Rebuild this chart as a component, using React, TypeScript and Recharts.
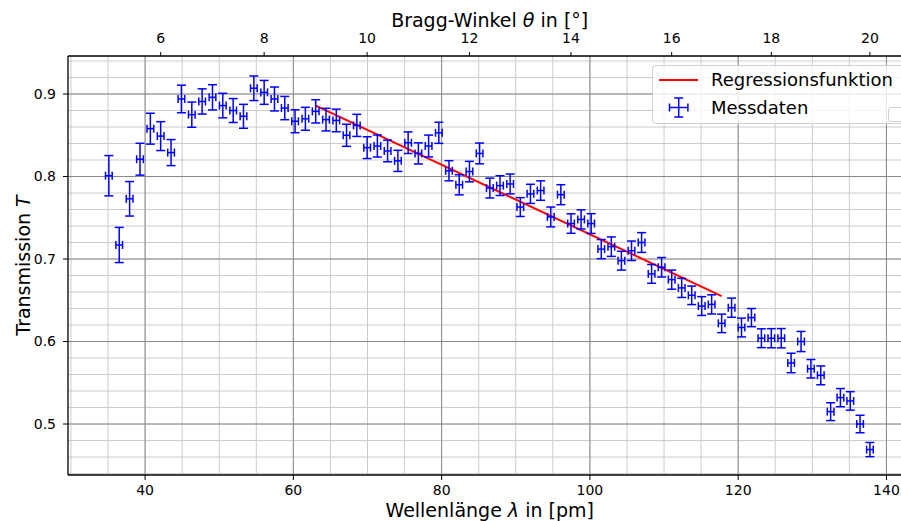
import React from 'react';
import { ComposedChart, Scatter, Line, XAxis, YAxis, ReferenceLine, ErrorBar, Legend } from 'recharts';

// Wellenlänge λ in pm (Messpunkte)
const lambdaPm = [
  35.11, 36.51, 37.91, 39.31, 40.71, 42.10, 43.50, 44.90, 46.30, 47.69,
  49.09, 50.48, 51.88, 53.27, 54.67, 56.06, 57.45, 58.84, 60.23, 61.62,
  63.01, 64.40, 65.79, 67.17, 68.56, 69.95, 71.33, 72.71, 74.10, 75.48,
  76.86, 78.24, 79.62, 80.99, 82.37, 83.75, 85.12, 86.50, 87.87, 89.24,
  90.61, 91.98, 93.35, 94.72, 96.08, 97.45, 98.81, 100.17, 101.53, 102.89,
  104.25, 105.61, 106.97, 108.32, 109.67, 111.03, 112.38, 113.73, 115.08, 116.42,
  117.77, 119.11, 120.45, 121.79, 123.13, 124.47, 125.81, 127.14, 128.48, 129.81,
  131.14, 132.47, 133.79, 135.12, 136.44, 137.77,
];

// Transmission T
const transmission = [
  0.801, 0.717, 0.773, 0.821, 0.858, 0.849, 0.829, 0.894, 0.875, 0.891,
  0.896, 0.886, 0.880, 0.873, 0.907, 0.902, 0.894, 0.883, 0.867, 0.870,
  0.879, 0.869, 0.868, 0.850, 0.862, 0.835, 0.837, 0.831, 0.819, 0.841,
  0.828, 0.837, 0.853, 0.807, 0.790, 0.806, 0.828, 0.786, 0.789, 0.791,
  0.763, 0.779, 0.783, 0.751, 0.778, 0.743, 0.748, 0.743, 0.712, 0.715,
  0.698, 0.710, 0.720, 0.682, 0.690, 0.675, 0.665, 0.656, 0.643, 0.645,
  0.622, 0.641, 0.617, 0.629, 0.604, 0.604, 0.604, 0.574, 0.600, 0.567,
  0.559, 0.515, 0.532, 0.528, 0.500, 0.469,
];

// Fehler der Transmission
const transmissionErr = [
  0.0244, 0.0213, 0.0209, 0.0193, 0.0187, 0.0175, 0.0158, 0.0167, 0.0153, 0.0153,
  0.0153, 0.0149, 0.0145, 0.0145, 0.0149, 0.0145, 0.0145, 0.0141, 0.0139, 0.0139,
  0.0141, 0.0137, 0.0137, 0.0134, 0.0134, 0.0132, 0.0134, 0.0131, 0.0128, 0.0131,
  0.0128, 0.0132, 0.0128, 0.0122, 0.0122, 0.0124, 0.0126, 0.0120, 0.0120, 0.0120,
  0.0114, 0.0116, 0.0118, 0.0120, 0.0121, 0.0118, 0.0116, 0.0120, 0.0116, 0.0118,
  0.0114, 0.0118, 0.0120, 0.0114, 0.0118, 0.0116, 0.0116, 0.0112, 0.0114, 0.0116,
  0.0112, 0.0116, 0.0114, 0.0110, 0.0114, 0.0116, 0.0117, 0.0118, 0.0122, 0.0112,
  0.0114, 0.0108, 0.0110, 0.0112, 0.0106, 0.0086,
];

const LAMBDA_ERR = 0.45;

// Regressionsgerade (Endpunkte)
const regressionLambda = [63.01, 117.77];
const regressionT = [0.886, 0.655];

// Achsen
const lambdaTicks = [40, 60, 80, 100, 120, 140];
const lambdaMinorTicks = [30, 35, 40, 45, 50, 55, 60, 65, 70, 75, 80, 85, 90, 95, 100, 105, 110, 115, 120, 125, 130, 135, 140];
const transmissionTicks = [0.5, 0.6, 0.7, 0.8, 0.9];
const transmissionMinorTicks = [0.44, 0.46, 0.48, 0.5, 0.52, 0.54, 0.56, 0.58, 0.6, 0.62, 0.64, 0.66, 0.68, 0.7, 0.72, 0.74, 0.76, 0.78, 0.8, 0.82, 0.84, 0.86, 0.88, 0.9, 0.92, 0.94];
const braggTicksDeg = [6, 8, 10, 12, 14, 16, 18, 20];
const TWO_D_PM = 402.8; // 2d (LiF)

const X_DOMAIN: [number, number] = [29.6, 143.36];
const Y_DOMAIN: [number, number] = [0.4382, 0.9461];

const FONT = 'DejaVu Sans';

const data = lambdaPm.map((x, i) => ({ x, y: transmission[i], yErr: transmissionErr[i], xErr: LAMBDA_ERR }));
const regressionData = regressionLambda.map((x, i) => ({ x, y: regressionT[i] }));
const braggTickLambda = braggTicksDeg.map((t) => TWO_D_PM * Math.sin((t * Math.PI) / 180));

const braggLabel = (v: number) => {
  const idx = braggTickLambda.findIndex((l) => Math.abs(l - v) < 1e-6);
  return idx >= 0 ? String(braggTicksDeg[idx]) : '';
};

const LegendBox = () => (
  <div
    style={{
      position: 'relative',
      width: 280,
      height: 59,
      boxSizing: 'border-box',
      border: '1px solid #d0d0d0',
      borderRadius: 4,
      background: 'rgba(255,255,255,0.8)',
      fontFamily: FONT,
      fontSize: 18,
      color: '#000',
    }}
  >
    <svg width={60} height={59} style={{ position: 'absolute', left: 0, top: 0 }}>
      <line x1={6} x2={45} y1={14} y2={14} stroke="#ff0000" strokeWidth={2} />
      <line x1={25.7} x2={25.7} y1={32} y2={51} stroke="#0000ff" strokeWidth={1.5} />
      <line x1={21.2} x2={30.2} y1={32} y2={32} stroke="#0000ff" strokeWidth={1.5} />
      <line x1={21.2} x2={30.2} y1={51} y2={51} stroke="#0000ff" strokeWidth={1.5} />
      <line x1={16.5} x2={34.9} y1={41.5} y2={41.5} stroke="#0000ff" strokeWidth={1.5} />
      <line x1={16.5} x2={16.5} y1={37.5} y2={45.5} stroke="#0000ff" strokeWidth={1.5} />
      <line x1={34.9} x2={34.9} y1={37.5} y2={45.5} stroke="#0000ff" strokeWidth={1.5} />
    </svg>
    <div style={{ position: 'absolute', left: 58, top: 2, lineHeight: '24px', whiteSpace: 'nowrap' }}>Regressionsfunktion</div>
    <div style={{ position: 'absolute', left: 58, top: 30, lineHeight: '24px', whiteSpace: 'nowrap' }}>Messdaten</div>
    <div
      style={{
        position: 'absolute',
        left: 235,
        top: 41,
        width: 40,
        height: 15,
        boxSizing: 'border-box',
        border: '1px solid #d0d0d0',
        borderRadius: 3,
        background: 'rgba(255,255,255,0.8)',
      }}
    />
  </div>
);

const tickStyle = { fontSize: 14, fill: '#000', fontFamily: FONT };

const MINOR_GRID = '#cccccc';
const MAJOR_GRID = '#8a8a8a';

export default function App() {
  return (
    <div style={{ position: 'fixed', left: 0, top: 0, width: 901, height: 521, overflow: 'hidden', background: '#fff' }}>
      <ComposedChart width={960} height={521} margin={{ top: 0, right: 48.64, bottom: 0, left: 0 }} style={{ fontFamily: FONT }}>
        {lambdaMinorTicks.map((v) => (
          <ReferenceLine key={`vx${v}`} x={v} stroke={MINOR_GRID} strokeWidth={1} zIndex={-100} />
        ))}
        {transmissionMinorTicks.map((v) => (
          <ReferenceLine key={`hy${v}`} y={v} stroke={MINOR_GRID} strokeWidth={1} zIndex={-100} />
        ))}
        {lambdaTicks.map((v) => (
          <ReferenceLine key={`VX${v}`} x={v} stroke={MAJOR_GRID} strokeWidth={1} zIndex={-90} />
        ))}
        {transmissionTicks.map((v) => (
          <ReferenceLine key={`HY${v}`} y={v} stroke={MAJOR_GRID} strokeWidth={1} zIndex={-90} />
        ))}
        <XAxis
          xAxisId="minorX"
          type="number"
          dataKey="x"
          domain={X_DOMAIN}
          allowDataOverflow
          ticks={lambdaMinorTicks}
          interval={0}
          tickFormatter={() => ''}
          tickSize={3}
          height={0}
          axisLine={false}
          tickLine={{ stroke: '#000', strokeWidth: 1 }}
        />
        <XAxis
          type="number"
          dataKey="x"
          domain={X_DOMAIN}
          allowDataOverflow
          ticks={lambdaTicks}
          interval={0}
          tickSize={5}
          tickMargin={5}
          height={46}
          tick={tickStyle}
          axisLine={{ stroke: '#000', strokeWidth: 1.3 }}
          tickLine={{ stroke: '#000', strokeWidth: 1 }}
          label={(p: any) => {
            const vb = p.viewBox;
            return (
              <text x={vb.x + vb.width / 2} y={517} textAnchor="middle" fontSize={19} fontFamily={FONT} fill="#000">
                Wellenlänge <tspan fontStyle="italic">λ</tspan> in [pm]
              </text>
            );
          }}
        />
        <XAxis
          xAxisId="top"
          orientation="top"
          type="number"
          dataKey="x"
          domain={X_DOMAIN}
          allowDataOverflow
          ticks={braggTickLambda}
          interval={0}
          tickFormatter={braggLabel}
          tickSize={4}
          tickMargin={9}
          height={56}
          tick={tickStyle}
          axisLine={{ stroke: '#000', strokeWidth: 1.3 }}
          tickLine={{ stroke: '#000', strokeWidth: 1 }}
          label={(p: any) => {
            const vb = p.viewBox;
            return (
              <text x={vb.x + vb.width / 2} y={27} textAnchor="middle" fontSize={19} fontFamily={FONT} fill="#000">
                Bragg-Winkel <tspan fontStyle="italic">θ</tspan> in [°]
              </text>
            );
          }}
        />
        <YAxis
          yAxisId="minorY"
          type="number"
          dataKey="y"
          domain={Y_DOMAIN}
          allowDataOverflow
          ticks={transmissionMinorTicks}
          interval={0}
          tickFormatter={() => ''}
          tickSize={3}
          width={0}
          axisLine={false}
          tickLine={{ stroke: '#000', strokeWidth: 1 }}
        />
        <YAxis
          type="number"
          dataKey="y"
          domain={Y_DOMAIN}
          allowDataOverflow
          ticks={transmissionTicks}
          interval={0}
          tickFormatter={(v: number) => v.toFixed(1)}
          tickSize={5}
          tickMargin={7}
          width={68}
          tick={tickStyle}
          axisLine={{ stroke: '#000', strokeWidth: 1.3 }}
          tickLine={{ stroke: '#000', strokeWidth: 1 }}
          label={(p: any) => {
            const vb = p.viewBox;
            const cy = vb.y + vb.height / 2;
            return (
              <text x={30} y={cy} transform={`rotate(-90 30 ${cy})`} textAnchor="middle" fontSize={19} fontFamily={FONT} fill="#000">
                Transmission <tspan fontStyle="italic">T</tspan>
              </text>
            );
          }}
        />
        <Line
          data={regressionData}
          dataKey="y"
          type="linear"
          stroke="#ff0000"
          strokeWidth={2}
          dot={false}
          activeDot={false}
          isAnimationActive={false}
          name="Regressionsfunktion"
        />
        <Scatter
          data={data}
          dataKey="y"
          shape={() => <g />}
          isAnimationActive={false}
          name="Messdaten"
        >
          <ErrorBar dataKey="yErr" direction="y" width={4.5} stroke="#0000ff" strokeWidth={1.5} isAnimationActive={false} />
          <ErrorBar dataKey="xErr" direction="x" width={4} stroke="#0000ff" strokeWidth={1.5} isAnimationActive={false} />
        </Scatter>
        <Legend
          layout="vertical"
          align="center"
          verticalAlign="middle"
          content={() => <LegendBox />}
          wrapperStyle={{ left: 652, top: 65, width: 280, height: 59 }}
        />
      </ComposedChart>
    </div>
  );
}
